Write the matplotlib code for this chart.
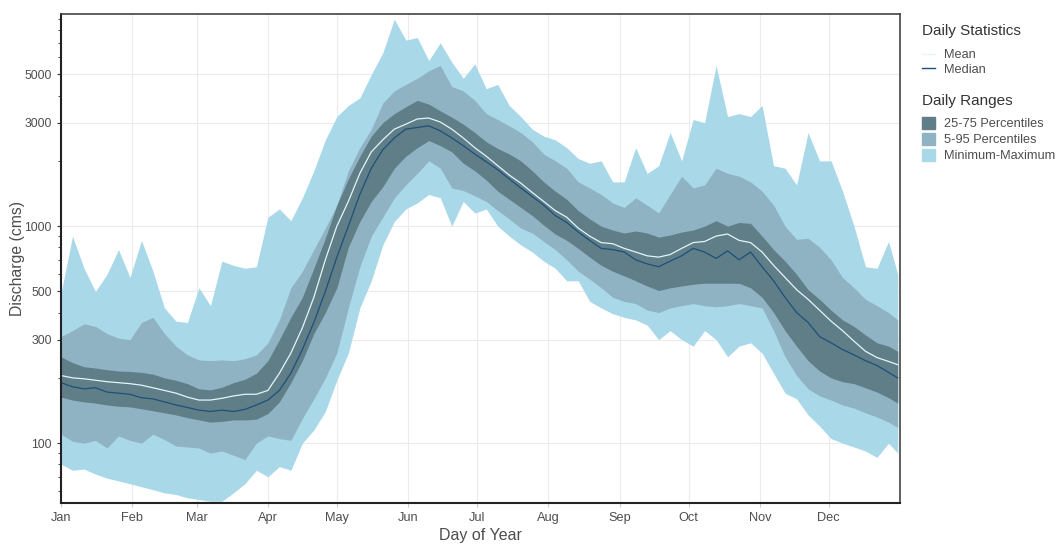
import numpy as np
import matplotlib
matplotlib.use('Agg')
import matplotlib.pyplot as plt
from matplotlib.ticker import LogLocator, NullFormatter, FixedLocator, FixedFormatter
from matplotlib.lines import Line2D
from matplotlib.patches import Patch

plt.rcParams['font.family'] = ['Liberation Sans', 'DejaVu Sans']

# day of year, every 5 days
days = list(range(1, 362, 5)) + [365]

q_max = [490, 900, 640, 500, 600, 780, 580, 860, 620, 420, 365, 360, 520, 430, 690, 660, 640, 650, 1100, 1200,
         1060, 1350, 1800, 2500, 3200, 3600, 3900, 5000, 6300, 9000, 7200, 7400, 5800, 7000, 5700, 4800, 5600, 4300,
         4500, 3600, 3200, 2800, 2600, 2500, 2300, 2050, 1950, 2000, 1600, 1600, 2300, 1750, 1900, 2700, 2000, 3100,
         3000, 5500, 3200, 3300, 3200, 3600, 1900, 1850, 1550, 2700, 2000, 2000, 1450, 1000, 650, 640, 850, 600]
q_min = [80, 75, 76, 72, 69, 67, 65, 63, 61, 59, 58, 56, 55, 54, 54, 59, 65, 75, 70, 78,
         75, 100, 115, 140, 195, 260, 420, 560, 820, 1050, 1200, 1280, 1400, 1350, 1000, 1300, 1150, 1200,
         1000, 900, 820, 760, 690, 640, 560, 560, 450, 420, 395, 380, 370, 350, 300, 330, 300, 280,
         330, 300, 250, 280, 290, 260, 210, 170, 160, 135, 120, 105, 100, 96, 92, 86, 100, 90]
q_p95 = [310, 330, 355, 345, 320, 305, 300, 360, 380, 320, 280, 255, 242, 240, 242, 240, 245, 255, 290, 370,
         520, 620, 780, 980, 1250, 1800, 2300, 2800, 3700, 4200, 4500, 4800, 5200, 5500, 4400, 4200, 3800, 3300,
         3100, 2900, 2700, 2450, 2150, 2000, 1850, 1600, 1500, 1400, 1280, 1220, 1350, 1250, 1150, 1400, 1700, 1500,
         1550, 1850, 1750, 1700, 1600, 1450, 1250, 1000, 870, 880, 800, 700, 580, 520, 460, 430, 400, 370]
q_p5 = [110, 102, 100, 103, 95, 108, 103, 100, 110, 104, 97, 96, 95, 90, 92, 88, 84, 100, 108, 105,
        103, 130, 160, 200, 260, 420, 650, 900, 1100, 1350, 1550, 1750, 2000, 1850, 1500, 1460, 1380, 1300,
        1180, 1080, 980, 930, 850, 780, 700, 620, 570, 520, 470, 450, 440, 410, 400, 420, 430, 440,
        430, 425, 430, 440, 430, 420, 330, 250, 205, 178, 165, 158, 150, 145, 138, 132, 125, 118]
q_p75 = [250, 235, 225, 222, 218, 215, 214, 212, 208, 200, 195, 188, 178, 176, 181, 190, 197, 210, 240, 300,
         380, 470, 640, 880, 1250, 1650, 2100, 2600, 3000, 3300, 3550, 3800, 3650, 3400, 3180, 2950, 2700, 2450,
         2280, 2150, 2000, 1800, 1600, 1450, 1330, 1180, 1080, 1000, 960, 930, 950, 930, 890, 910, 940, 960,
         1000, 1060, 1000, 1040, 1030, 900, 780, 690, 600, 510, 460, 410, 370, 345, 315, 290, 280, 265]
q_p25 = [163, 158, 155, 153, 150, 148, 147, 144, 141, 138, 135, 131, 128, 125, 126, 128, 128, 129, 137, 155,
         190, 240, 320, 400, 520, 800, 1050, 1300, 1520, 1850, 2100, 2300, 2480, 2350, 2200, 1950, 1800, 1630,
         1450, 1330, 1220, 1120, 1010, 920, 860, 790, 720, 660, 620, 590, 560, 530, 505, 520, 530, 540,
         546, 546, 546, 545, 520, 470, 400, 330, 280, 240, 215, 200, 192, 188, 180, 172, 162, 153]
q_mean = [205, 200, 198, 195, 192, 190, 188, 185, 180, 175, 170, 163, 158, 158, 161, 165, 168, 168, 175, 210,
          260, 340, 470, 700, 1000, 1300, 1750, 2200, 2500, 2800, 2950, 3120, 3150, 3020, 2800, 2550, 2300, 2100,
          1900, 1720, 1580, 1430, 1300, 1180, 1100, 980, 900, 840, 830, 790, 760, 730, 720, 740, 790, 840,
          850, 900, 920, 860, 840, 760, 660, 580, 510, 460, 410, 365, 330, 295, 265, 248, 238, 230]
q_median = [190, 182, 178, 180, 172, 170, 168, 162, 160, 155, 150, 146, 142, 140, 142, 140, 143, 150, 158, 175,
            210, 270, 360, 500, 720, 1000, 1400, 1850, 2250, 2550, 2800, 2850, 2900, 2750, 2550, 2350, 2150, 1980,
            1820, 1650, 1500, 1370, 1250, 1120, 1040, 940, 860, 790, 780, 760, 700, 670, 650, 690, 730, 790,
            760, 710, 770, 700, 760, 650, 560, 470, 400, 360, 310, 290, 270, 255, 240, 228, 212, 200]

month_days = [1, 32, 60, 91, 121, 152, 182, 213, 244, 274, 305, 335]
month_labels = ['Jan', 'Feb', 'Mar', 'Apr', 'May', 'Jun', 'Jul', 'Aug', 'Sep', 'Oct', 'Nov', 'Dec']
y_ticks = [100, 300, 500, 1000, 3000, 5000]

c_minmax = '#a9d9e9'
c_p595 = '#8fb3c2'
c_p2575 = '#5f7e88'
c_mean = '#e3f5f9'
c_median = '#1f4f7a'
txt = '#4d4d4d'

fig = plt.figure(figsize=(10.62, 5.44), dpi=100)
ax = fig.add_axes([61 / 1062, 1 - 503 / 544, (900 - 61) / 1062, (503 - 14) / 544])

ax.fill_between(days, q_min, q_max, color=c_minmax, lw=0)
ax.fill_between(days, q_p5, q_p95, color=c_p595, lw=0)
ax.fill_between(days, q_p25, q_p75, color=c_p2575, lw=0)
ax.plot(days, q_median, color=c_median, lw=0.9)
ax.plot(days, q_mean, color=c_mean, lw=0.9)

ax.set_yscale('log')
ax.set_ylim(53, 9500)
ax.set_xlim(1, 366)

ax.yaxis.set_major_locator(FixedLocator(y_ticks))
ax.yaxis.set_major_formatter(FixedFormatter([str(v) for v in y_ticks]))
ax.yaxis.set_minor_locator(LogLocator(base=10, subs=np.arange(2, 10)))
ax.yaxis.set_minor_formatter(NullFormatter())
ax.set_xticks(month_days)
ax.set_xticklabels(month_labels)

ax.grid(True, which='major', color='#ebebeb', lw=0.8)
ax.set_axisbelow(True)

ax.tick_params(axis='both', which='major', labelsize=8.8, labelcolor=txt, color='#333333', length=3)
ax.tick_params(axis='x', which='major', labelsize=9.2)
ax.tick_params(axis='y', which='minor', color='#333333', length=2)
ax.tick_params(axis='x', which='major', color='#cccccc')

for side in ['left', 'bottom']:
    ax.spines[side].set_color('#222222')
    ax.spines[side].set_linewidth(1.5)
for side in ['top', 'right']:
    ax.spines[side].set_color('#444444')
    ax.spines[side].set_linewidth(1.2)

ax.set_ylabel('Discharge (cms)', fontsize=11.3, color=txt)
ax.yaxis.set_label_coords(-0.043, 0.5)
ax.set_xlabel('Day of Year', fontsize=11.5, color=txt)
ax.xaxis.set_label_coords(0.5, -0.052)

# legends: titles as text, entries as two legends
fig.text(922 / 1062, 1 - 31 / 544, 'Daily Statistics', fontsize=11, color='#333333', va='center', ha='left')
fig.text(922 / 1062, 1 - 101 / 544, 'Daily Ranges', fontsize=11, color='#333333', va='center', ha='left')

stat_handles = [Line2D([], [], color=c_mean, lw=1), Line2D([], [], color=c_median, lw=1)]
leg1 = ax.legend(stat_handles, ['Mean', 'Median'], loc='upper left',
                 bbox_to_anchor=(922 / 1062, 1 - 49 / 544), bbox_transform=fig.transFigure,
                 frameon=False, fontsize=9.2, borderpad=0, borderaxespad=0, handlelength=1.0,
                 handletextpad=0.75, labelspacing=0.2, labelcolor=txt)
ax.add_artist(leg1)

range_handles = [Patch(color=c_p2575), Patch(color=c_p595), Patch(color=c_minmax)]
leg2 = ax.legend(range_handles, ['25-75 Percentiles', '5-95 Percentiles', 'Minimum-Maximum'],
                 loc='upper left', bbox_to_anchor=(922 / 1062, 1 - 117 / 544), bbox_transform=fig.transFigure,
                 frameon=False, fontsize=9.2, borderpad=0, borderaxespad=0, handlelength=1.0,
                 handleheight=1.05, handletextpad=0.75, labelspacing=0.2, labelcolor=txt)

fig.savefig('out.png', dpi=100)
